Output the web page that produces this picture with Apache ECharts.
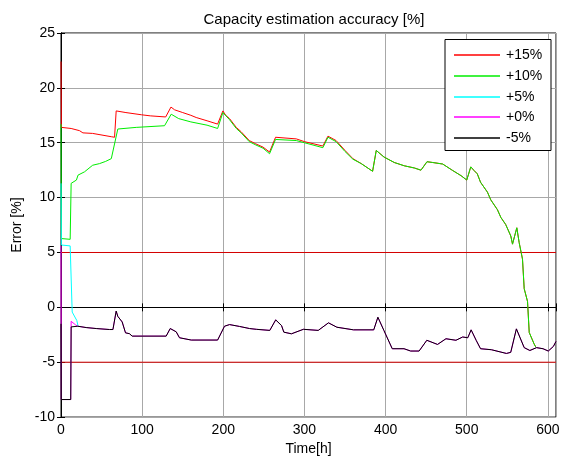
<!DOCTYPE html>
<html><head><meta charset="utf-8">
<script src="https://cdn.jsdelivr.net/npm/echarts@6/dist/echarts.min.js"></script>
<style>html,body{margin:0;padding:0;background:#fff}#c{width:563px;height:461px}</style>
</head><body><div id="c"></div>
<script>
const titleText = 'Capacity estimation accuracy [%]';
const xName = 'Time[h]';
const yName = 'Error [%]';
const seriesNames = ['+15%', '+10%', '+5%', '+0%', '-5%'];
const seriesColors = ['#ff0000', '#00ee00', '#00ffff', '#ff00ff', '#000000'];
const refLines = [5, -5];

const redT = [0, 0.5, 12.5, 22.8, 27, 39, 62, 66, 68, 80, 99, 110, 129, 135.5, 140, 150, 160, 166.6, 180, 193, 199.5, 203, 207.7, 216, 222, 232, 240, 249, 257, 264.4, 290, 300, 322.7, 329, 339, 350, 359.7, 370, 384, 388.5, 398, 410.7, 423, 435.4, 443.6, 451, 458, 470.4, 482.7, 493, 500, 505, 509, 513, 517, 525.5, 529.6, 537.8, 542, 548, 554.3, 556.4, 561.7, 564.6, 568.7, 570.8, 574.9, 577, 583, 585];
const redV = [22.4, 16.4, 16.3, 16.1, 15.9, 15.85, 15.55, 15.5, 17.9, 17.75, 17.55, 17.45, 17.35, 18.25, 18.0, 17.75, 17.5, 17.3, 17.0, 16.7, 17.9, 17.5, 17.2, 16.4, 16.0, 15.2, 14.9, 14.6, 14.15, 15.5, 15.35, 15.1, 14.7, 15.6, 15.2, 14.3, 13.55, 13.1, 12.4, 14.3, 13.7, 13.2, 12.9, 12.7, 12.5, 13.27, 13.2, 13.06, 12.47, 12.0, 11.6, 12.8, 12.47, 12.17, 11.4, 10.5, 9.8, 8.9, 8.2, 7.55, 6.5, 5.76, 7.25, 5.9, 4.4, 1.7, 0.54, -2.29, -3.33, -3.6];

const greenT = [0, 0.5, 11.3, 12.5, 19, 21, 29, 39, 47.5, 55, 62, 70, 92.7, 127.6, 129.6, 135.8, 145, 160, 180, 193, 199.5, 207.7, 216, 222, 232, 240, 249, 257, 264.4, 290, 300, 322.7, 329, 339, 350, 359.7, 370, 384, 388.5, 398, 410.7, 423, 435.4, 443.6, 451, 458, 470.4, 482.7, 493, 500, 505, 509, 513, 517, 525.5, 529.6, 537.8, 542, 548, 554.3, 556.4, 561.7, 564.6, 568.7, 570.8, 574.9, 577, 583, 585];
const greenV = [16.7, 6.27, 6.2, 11.3, 11.6, 12.05, 12.35, 12.95, 13.1, 13.3, 13.55, 16.25, 16.4, 16.55, 16.55, 17.6, 17.2, 16.9, 16.6, 16.3, 17.75, 17.1, 16.3, 15.9, 15.1, 14.8, 14.5, 14.0, 15.3, 15.2, 15.0, 14.55, 15.5, 15.1, 14.2, 13.5, 13.1, 12.4, 14.3, 13.7, 13.2, 12.9, 12.7, 12.5, 13.27, 13.2, 13.06, 12.47, 12.0, 11.6, 12.8, 12.47, 12.17, 11.4, 10.5, 9.8, 8.9, 8.2, 7.55, 6.5, 5.76, 7.25, 5.9, 4.4, 1.7, 0.54, -2.29, -3.33, -3.6];

const cyanT = [0, 0.5, 11.3, 13.8, 19.5, 21];
const cyanV = [11.3, 5.68, 5.6, -0.43, -1.2, -1.7];

const blackT = [0, 0.3, 12, 12.5, 20.7, 31, 43.4, 59.8, 64, 68, 70, 75.4, 79.5, 84.4, 87.7, 129.6, 134.6, 142, 146, 160.5, 193, 201.5, 207.7, 220, 232.3, 240.7, 257.3, 264.6, 271.8, 274.6, 284, 298.7, 317, 329.6, 340, 360.5, 385.4, 390.5, 397.9, 408.2, 422.7, 430.9, 441.3, 450.8, 464, 474.4, 486.7, 495, 501.3, 505.4, 511.6, 517, 530.3, 548.9, 554.2, 561.2, 570.8, 577.8, 586, 594, 600.5, 606.8, 610];
const blackV = [-1.5, -8.4, -8.4, -1.78, -1.72, -1.84, -1.93, -2.02, -2.02, -0.34, -0.82, -1.33, -2.32, -2.4, -2.62, -2.62, -1.93, -2.23, -2.77, -2.98, -2.98, -1.72, -1.57, -1.74, -1.93, -2.0, -2.1, -1.14, -1.66, -2.26, -2.41, -2.0, -2.1, -1.41, -1.81, -2.05, -2.05, -0.9, -2.1, -3.77, -3.77, -3.98, -3.98, -3.0, -3.38, -2.86, -3.0, -2.7, -2.77, -2.05, -3.0, -3.77, -3.86, -4.2, -4.1, -1.96, -3.67, -3.93, -3.67, -3.77, -3.98, -3.56, -3.1];

// +0% series: its own start, then it runs under the -5% curve
const magentaHeadT = [0, 0.3, 12, 12.5, 18, 20.7];
const magentaHeadV = [5.6, -8.4, -8.4, -1.27, -1.6, -1.72];

const xMin = 0, xMax = 610, xStep = 100;
const yMin = -10, yMax = 25, yStep = 5;

function zip(t, v) { return t.map((x, i) => [x, v[i]]); }
const magentaT = magentaHeadT.concat(blackT.filter(x => x > 20.7));
const magentaV = magentaHeadV.concat(blackV.filter((v, i) => blackT[i] > 20.7));
const allData = [zip(redT, redV), zip(greenT, greenV), zip(cyanT, cyanV), zip(magentaT, magentaV), zip(blackT, blackV)];

const FONT = 'Liberation Sans, Arial, sans-serif';
const FS = 14;
const chart = echarts.init(document.getElementById('c'), null, {renderer: 'canvas'});

const series = refLines.map(v => ({
  type: 'line', data: [[xMin, v], [xMax, v]], symbol: 'none', silent: true,
  lineStyle: {color: '#d40000', width: 1}, animation: false, z: 2
})).concat(allData.map((d, i) => ({
  name: seriesNames[i], type: 'line', data: d, symbol: 'none', showSymbol: false,
  lineStyle: {color: seriesColors[i], width: 1}, itemStyle: {color: seriesColors[i]},
  animation: false, silent: true, z: 3 + i
})));

// legend drawn as graphic (plain line samples, like the original)
const LG = {x: 445, y: 39.5, w: 106, h: 111, lineX0: 454, lineX1: 500, textX: 506, row0: 55, rowStep: 20.8};
const legendGraphics = [{
  type: 'rect', shape: {x: LG.x, y: LG.y, width: LG.w, height: LG.h},
  style: {fill: '#fff', stroke: '#000', lineWidth: 1}, z: 100
}];
seriesNames.forEach((n, i) => {
  const cy = Math.round(LG.row0 + i * LG.rowStep);
  legendGraphics.push({type: 'line', shape: {x1: LG.lineX0, y1: cy, x2: LG.lineX1, y2: cy},
    style: {stroke: seriesColors[i], lineWidth: 1.3}, z: 101});
  legendGraphics.push({type: 'text', x: LG.textX, y: cy,
    style: {text: n, fill: '#000', font: FS + 'px ' + FONT, textVerticalAlign: 'middle', verticalAlign: 'middle'}, z: 101});
});

const baseX = {type: 'value', min: xMin, max: xMax, interval: xStep};
const baseY = {type: 'value', min: yMin, max: yMax, interval: yStep};
chart.setOption({
  animation: false,
  backgroundColor: '#fff',
  title: {text: titleText, left: 309, top: 7, textAlign: 'center',
    textStyle: {fontFamily: FONT, fontSize: 15, fontWeight: 'normal', color: '#000'}},
  graphic: legendGraphics,
  grid: {left: 61, right: 7, top: 33, bottom: 40, show: true, borderColor: '#000', borderWidth: 1},
  xAxis: [
    Object.assign({}, baseX, {
      position: 'bottom', name: xName, nameLocation: 'middle', nameGap: 24,
      nameTextStyle: {fontFamily: FONT, fontSize: FS, color: '#000'},
      axisLine: {show: true, lineStyle: {color: '#000'}},
      axisTick: {show: true, inside: true, length: 4, lineStyle: {color: '#000'}},
      axisLabel: {margin: 6, fontFamily: FONT, fontSize: FS, color: '#000',
        formatter: v => (v % xStep === 0 ? String(v) : '')},
      splitLine: {show: true, lineStyle: {color: '#a8a8a8', width: 1}}
    }),
    Object.assign({}, baseX, {
      position: 'top', axisLine: {show: true, lineStyle: {color: '#000'}},
      axisTick: {show: true, inside: true, length: 4, lineStyle: {color: '#000'}},
      axisLabel: {show: false}, splitLine: {show: false}
    })
  ],
  yAxis: [
    Object.assign({}, baseY, {
      position: 'left', name: yName, nameLocation: 'middle', nameGap: 31,
      nameTextStyle: {fontFamily: FONT, fontSize: FS, color: '#000'},
      axisLine: {show: true, lineStyle: {color: '#000'}},
      axisTick: {show: true, inside: true, length: 4, lineStyle: {color: '#000'}},
      axisLabel: {margin: 6, fontFamily: FONT, fontSize: FS, color: '#000'},
      splitLine: {show: true, lineStyle: {color: '#a8a8a8', width: 1}}
    }),
    Object.assign({}, baseY, {
      position: 'right', axisLine: {show: true, lineStyle: {color: '#000'}},
      axisTick: {show: true, inside: true, length: 4, lineStyle: {color: '#000'}},
      axisLabel: {show: false}, splitLine: {show: false}
    })
  ],
  series: series
});
</script></body></html>
